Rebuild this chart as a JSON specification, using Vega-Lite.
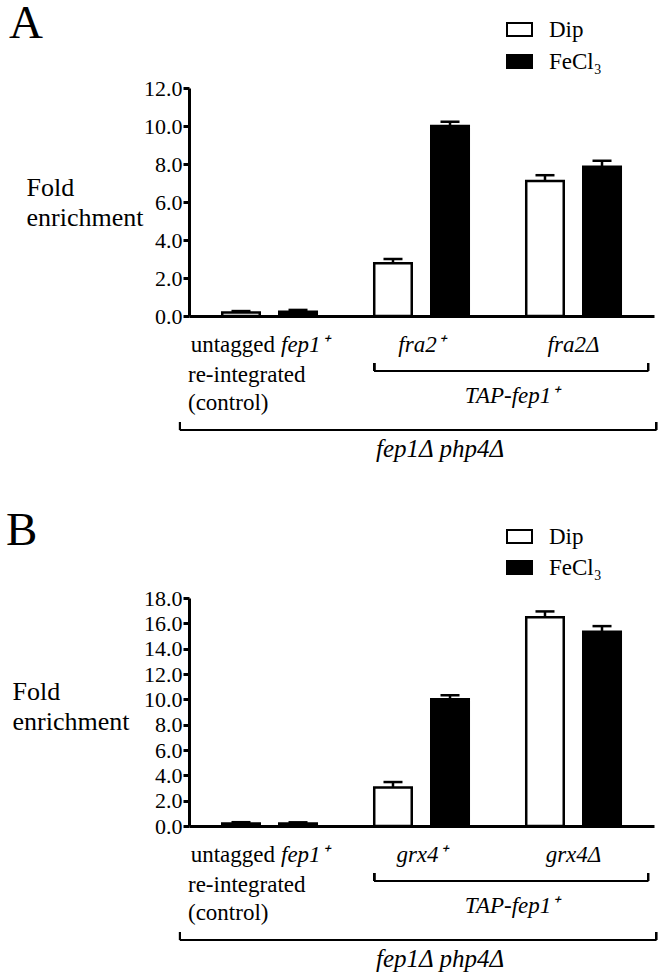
{
  "$schema": "https://vega.github.io/schema/vega-lite/v6.json",
  "padding": {"left": 6, "top": 0, "right": 0, "bottom": 0},
  "config": {
    "font": "Liberation Serif",
    "view": {"stroke": null},
    "axis": {"grid": false, "domainColor": "black", "domainWidth": 3, "tickColor": "black", "tickWidth": 3, "tickSize": 6, "labelColor": "black", "labelFont": "Liberation Serif", "labelFontSize": 22, "labelOverlap": false, "labelBound": false, "titleFont": "Liberation Serif", "titleColor": "black", "titleFontWeight": "normal"},
    "title": {"font": "Liberation Serif", "fontSize": 47, "fontWeight": "normal", "anchor": "start", "color": "black"},
    "text": {"font": "Liberation Serif", "fontSize": 23, "color": "black", "baseline": "alphabetic"}
  },
  "resolve": {"scale": {"x": "independent", "y": "independent", "fill": "independent"}, "legend": {"fill": "independent"}},
  "spacing": 45,
  "vconcat": [
    {
      "title": {"text": "A", "dx": -17, "offset": -30},
      "width": 465,
      "height": 228,
      "data": {"values": [
        {"group": "control", "treatment": "Dip", "value": 0.18, "upper": 0.26},
        {"group": "control", "treatment": "FeCl₃", "value": 0.23, "upper": 0.32},
        {"group": "fra2⁺", "treatment": "Dip", "value": 2.77, "upper": 3.0},
        {"group": "fra2⁺", "treatment": "FeCl₃", "value": 10.0, "upper": 10.23},
        {"group": "fra2Δ", "treatment": "Dip", "value": 7.11, "upper": 7.41},
        {"group": "fra2Δ", "treatment": "FeCl₃", "value": 7.85, "upper": 8.17}
      ]},
      "layer": [
        {
          "mark": {"type": "bar", "stroke": "black", "strokeWidth": 2.5},
          "encoding": {
            "x": {"field": "group", "type": "nominal", "title": null, "scale": {"domain": ["control", "fra2⁺", "fra2Δ"], "paddingInner": 0.378, "paddingOuter": 0.2186}, "axis": {"labels": false, "ticks": false, "title": null}},
            "xOffset": {"field": "treatment", "type": "nominal", "scale": {"domain": ["Dip", "FeCl₃"], "paddingInner": 0.342, "paddingOuter": 0}},
            "y": {"field": "value", "type": "quantitative", "scale": {"domain": [0, 12], "nice": false}, "axis": {"values": [0, 2, 4, 6, 8, 10, 12], "tickCount": 30, "format": ".1f", "labelOverlap": false, "labelPadding": 1, "title": ["Fold", "enrichment"], "titleAngle": 0, "titleAlign": "left", "titleBaseline": "alphabetic", "titleX": -163, "titleY": 107, "titleFontSize": 26, "titleLineHeight": 30}},
            "fill": {"field": "treatment", "type": "nominal", "scale": {"domain": ["Dip", "FeCl₃"], "range": ["white", "black"]}, "legend": {"title": null, "orient": "none", "legendX": 319, "legendY": -70, "symbolType": "M-1.25,-0.65H1.25V0.65H-1.25Z", "symbolSize": 400, "symbolStrokeColor": "black", "symbolStrokeWidth": 2, "labelFont": "Liberation Serif", "labelFontSize": 23, "labelColor": "black", "labelOffset": 18, "rowPadding": 8, "padding": 0}}
          }
        },
        {
          "mark": {"type": "rule", "color": "black", "strokeWidth": 2.5},
          "encoding": {
            "x": {"field": "group", "type": "nominal"},
            "xOffset": {"field": "treatment", "type": "nominal"},
            "y": {"field": "value", "type": "quantitative"},
            "y2": {"field": "upper"}
          }
        },
        {
          "mark": {"type": "tick", "color": "black", "thickness": 2.5, "size": 19, "opacity": 1},
          "encoding": {
            "x": {"field": "group", "type": "nominal"},
            "xOffset": {"field": "treatment", "type": "nominal"},
            "y": {"field": "upper", "type": "quantitative"}
          }
        },
        {
          "data": {"values": [{"group": "fra2⁺"}, {"group": "fra2Δ"}]},
          "mark": {"type": "text", "fontStyle": "italic", "align": "center", "dy": 36},
          "encoding": {"x": {"field": "group", "type": "nominal"}, "y": {"datum": 0}, "text": {"field": "group"}}
        },
        {
          "data": {"values": [{"group": "control", "label": "untagged"}]},
          "mark": {"type": "text", "align": "right", "dx": 5.5, "dy": 36},
          "encoding": {"x": {"field": "group", "type": "nominal"}, "y": {"datum": 0}, "text": {"field": "label"}}
        },
        {
          "data": {"values": [{"group": "control", "label": "fep1⁺"}]},
          "mark": {"type": "text", "align": "left", "fontStyle": "italic", "dx": 11.5, "dy": 36},
          "encoding": {"x": {"field": "group", "type": "nominal"}, "y": {"datum": 0}, "text": {"field": "label"}}
        },
        {
          "data": {"values": [{"group": "control", "label": "re-integrated"}]},
          "mark": {"type": "text", "align": "left", "dx": -81.5, "dy": 66},
          "encoding": {"x": {"field": "group", "type": "nominal"}, "y": {"datum": 0}, "text": {"field": "label"}}
        },
        {
          "data": {"values": [{"group": "control", "label": "(control)"}]},
          "mark": {"type": "text", "align": "left", "dx": -81.5, "dy": 94},
          "encoding": {"x": {"field": "group", "type": "nominal"}, "y": {"datum": 0}, "text": {"field": "label"}}
        },
        {
          "data": {"values": [{"label": "TAP-fep1⁺"}]},
          "mark": {"type": "text", "align": "center", "fontStyle": "italic", "dy": 87},
          "encoding": {"x": {"datum": "fra2⁺", "type": "nominal", "bandPosition": 1.458}, "y": {"datum": 0}, "text": {"field": "label"}}
        },
        {
          "data": {"values": [{"label": "fep1Δ php4Δ"}]},
          "mark": {"type": "text", "align": "center", "fontStyle": "italic", "fontSize": 25, "dy": 141},
          "encoding": {"x": {"datum": "fra2⁺", "type": "nominal", "bandPosition": 0.696}, "y": {"datum": 0}, "text": {"field": "label"}}
        },
        {
          "mark": {"type": "rule", "color": "black", "strokeWidth": 2, "yOffset": 55},
          "encoding": {"x": {"datum": "fra2⁺", "type": "nominal", "bandPosition": 0}, "x2": {"datum": "fra2Δ", "bandPosition": 1.289}, "y": {"datum": 0}}
        },
        {
          "mark": {"type": "rule", "color": "black", "strokeWidth": 2, "yOffset": 47, "y2Offset": 55},
          "encoding": {"x": {"datum": "fra2⁺", "type": "nominal", "bandPosition": 0}, "y": {"datum": 0}, "y2": {"datum": 0}}
        },
        {
          "mark": {"type": "rule", "color": "black", "strokeWidth": 2, "yOffset": 47, "y2Offset": 55},
          "encoding": {"x": {"datum": "fra2Δ", "type": "nominal", "bandPosition": 1.289}, "y": {"datum": 0}, "y2": {"datum": 0}}
        },
        {
          "mark": {"type": "rule", "color": "black", "strokeWidth": 2, "yOffset": 114},
          "encoding": {"x": {"datum": "control", "type": "nominal", "bandPosition": -0.447}, "x2": {"datum": "fra2Δ", "bandPosition": 1.374}, "y": {"datum": 0}}
        },
        {
          "mark": {"type": "rule", "color": "black", "strokeWidth": 2, "yOffset": 106, "y2Offset": 114},
          "encoding": {"x": {"datum": "control", "type": "nominal", "bandPosition": -0.447}, "y": {"datum": 0}, "y2": {"datum": 0}}
        },
        {
          "mark": {"type": "rule", "color": "black", "strokeWidth": 2, "yOffset": 106, "y2Offset": 114},
          "encoding": {"x": {"datum": "fra2Δ", "type": "nominal", "bandPosition": 1.374}, "y": {"datum": 0}, "y2": {"datum": 0}}
        }
      ]
    },
    {
      "title": {"text": "B", "dx": -6, "offset": -30},
      "width": 465,
      "height": 228,
      "data": {"values": [
        {"group": "control", "treatment": "Dip", "value": 0.19, "upper": 0.3},
        {"group": "control", "treatment": "FeCl₃", "value": 0.19, "upper": 0.29},
        {"group": "grx4⁺", "treatment": "Dip", "value": 3.04, "upper": 3.47},
        {"group": "grx4⁺", "treatment": "FeCl₃", "value": 10.0, "upper": 10.32},
        {"group": "grx4Δ", "treatment": "Dip", "value": 16.49, "upper": 16.94},
        {"group": "grx4Δ", "treatment": "FeCl₃", "value": 15.33, "upper": 15.78}
      ]},
      "layer": [
        {
          "mark": {"type": "bar", "stroke": "black", "strokeWidth": 2.5},
          "encoding": {
            "x": {"field": "group", "type": "nominal", "title": null, "scale": {"domain": ["control", "grx4⁺", "grx4Δ"], "paddingInner": 0.378, "paddingOuter": 0.2186}, "axis": {"labels": false, "ticks": false, "title": null}},
            "xOffset": {"field": "treatment", "type": "nominal", "scale": {"domain": ["Dip", "FeCl₃"], "paddingInner": 0.342, "paddingOuter": 0}},
            "y": {"field": "value", "type": "quantitative", "scale": {"domain": [0, 18], "nice": false}, "axis": {"values": [0, 2, 4, 6, 8, 10, 12, 14, 16, 18], "tickCount": 30, "format": ".1f", "labelOverlap": false, "labelPadding": 1, "title": ["Fold", "enrichment"], "titleAngle": 0, "titleAlign": "left", "titleBaseline": "alphabetic", "titleX": -177, "titleY": 101, "titleFontSize": 26, "titleLineHeight": 30}},
            "fill": {"field": "treatment", "type": "nominal", "scale": {"domain": ["Dip", "FeCl₃"], "range": ["white", "black"]}, "legend": {"title": null, "orient": "none", "legendX": 319, "legendY": -73, "symbolType": "M-1.25,-0.65H1.25V0.65H-1.25Z", "symbolSize": 400, "symbolStrokeColor": "black", "symbolStrokeWidth": 2, "labelFont": "Liberation Serif", "labelFontSize": 23, "labelColor": "black", "labelOffset": 18, "rowPadding": 7, "padding": 0}}
          }
        },
        {
          "mark": {"type": "rule", "color": "black", "strokeWidth": 2.5},
          "encoding": {
            "x": {"field": "group", "type": "nominal"},
            "xOffset": {"field": "treatment", "type": "nominal"},
            "y": {"field": "value", "type": "quantitative"},
            "y2": {"field": "upper"}
          }
        },
        {
          "mark": {"type": "tick", "color": "black", "thickness": 2.5, "size": 19, "opacity": 1},
          "encoding": {
            "x": {"field": "group", "type": "nominal"},
            "xOffset": {"field": "treatment", "type": "nominal"},
            "y": {"field": "upper", "type": "quantitative"}
          }
        },
        {
          "data": {"values": [{"group": "grx4⁺"}, {"group": "grx4Δ"}]},
          "mark": {"type": "text", "fontStyle": "italic", "align": "center", "dy": 36},
          "encoding": {"x": {"field": "group", "type": "nominal"}, "y": {"datum": 0}, "text": {"field": "group"}}
        },
        {
          "data": {"values": [{"group": "control", "label": "untagged"}]},
          "mark": {"type": "text", "align": "right", "dx": 5.5, "dy": 36},
          "encoding": {"x": {"field": "group", "type": "nominal"}, "y": {"datum": 0}, "text": {"field": "label"}}
        },
        {
          "data": {"values": [{"group": "control", "label": "fep1⁺"}]},
          "mark": {"type": "text", "align": "left", "fontStyle": "italic", "dx": 11.5, "dy": 36},
          "encoding": {"x": {"field": "group", "type": "nominal"}, "y": {"datum": 0}, "text": {"field": "label"}}
        },
        {
          "data": {"values": [{"group": "control", "label": "re-integrated"}]},
          "mark": {"type": "text", "align": "left", "dx": -81.5, "dy": 66},
          "encoding": {"x": {"field": "group", "type": "nominal"}, "y": {"datum": 0}, "text": {"field": "label"}}
        },
        {
          "data": {"values": [{"group": "control", "label": "(control)"}]},
          "mark": {"type": "text", "align": "left", "dx": -81.5, "dy": 94},
          "encoding": {"x": {"field": "group", "type": "nominal"}, "y": {"datum": 0}, "text": {"field": "label"}}
        },
        {
          "data": {"values": [{"label": "TAP-fep1⁺"}]},
          "mark": {"type": "text", "align": "center", "fontStyle": "italic", "dy": 87},
          "encoding": {"x": {"datum": "grx4⁺", "type": "nominal", "bandPosition": 1.458}, "y": {"datum": 0}, "text": {"field": "label"}}
        },
        {
          "data": {"values": [{"label": "fep1Δ php4Δ"}]},
          "mark": {"type": "text", "align": "center", "fontStyle": "italic", "fontSize": 25, "dy": 141},
          "encoding": {"x": {"datum": "grx4⁺", "type": "nominal", "bandPosition": 0.696}, "y": {"datum": 0}, "text": {"field": "label"}}
        },
        {
          "mark": {"type": "rule", "color": "black", "strokeWidth": 2, "yOffset": 55},
          "encoding": {"x": {"datum": "grx4⁺", "type": "nominal", "bandPosition": 0}, "x2": {"datum": "grx4Δ", "bandPosition": 1.289}, "y": {"datum": 0}}
        },
        {
          "mark": {"type": "rule", "color": "black", "strokeWidth": 2, "yOffset": 47, "y2Offset": 55},
          "encoding": {"x": {"datum": "grx4⁺", "type": "nominal", "bandPosition": 0}, "y": {"datum": 0}, "y2": {"datum": 0}}
        },
        {
          "mark": {"type": "rule", "color": "black", "strokeWidth": 2, "yOffset": 47, "y2Offset": 55},
          "encoding": {"x": {"datum": "grx4Δ", "type": "nominal", "bandPosition": 1.289}, "y": {"datum": 0}, "y2": {"datum": 0}}
        },
        {
          "mark": {"type": "rule", "color": "black", "strokeWidth": 2, "yOffset": 114},
          "encoding": {"x": {"datum": "control", "type": "nominal", "bandPosition": -0.447}, "x2": {"datum": "grx4Δ", "bandPosition": 1.374}, "y": {"datum": 0}}
        },
        {
          "mark": {"type": "rule", "color": "black", "strokeWidth": 2, "yOffset": 106, "y2Offset": 114},
          "encoding": {"x": {"datum": "control", "type": "nominal", "bandPosition": -0.447}, "y": {"datum": 0}, "y2": {"datum": 0}}
        },
        {
          "mark": {"type": "rule", "color": "black", "strokeWidth": 2, "yOffset": 106, "y2Offset": 114},
          "encoding": {"x": {"datum": "grx4Δ", "type": "nominal", "bandPosition": 1.374}, "y": {"datum": 0}, "y2": {"datum": 0}}
        }
      ]
    }
  ]
}
